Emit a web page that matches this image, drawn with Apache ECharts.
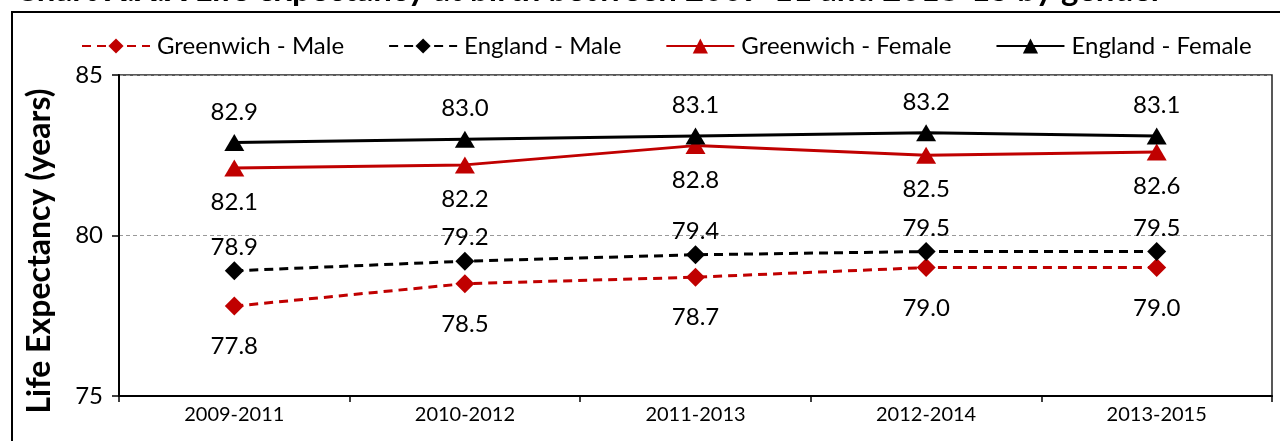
<!DOCTYPE html>
<html>
<head>
<meta charset="utf-8">
<script src="https://cdn.jsdelivr.net/npm/echarts@6/dist/echarts.min.js"></script>
<style>
  html, body { margin: 0; padding: 0; background: #fff; }
  #chart { width: 1280px; height: 441px; }
</style>
</head>
<body>
<div id="chart"></div>
<script>
// Three-year periods on the x axis
const periods = ['2009-2011', '2010-2012', '2011-2013', '2012-2014', '2013-2015'];

// Life expectancy at birth (years)
const greenwichMale   = [77.8, 78.5, 78.7, 79.0, 79.0];
const englandMale     = [78.9, 79.2, 79.4, 79.5, 79.5];
const greenwichFemale = [82.1, 82.2, 82.8, 82.5, 82.6];
const englandFemale   = [82.9, 83.0, 83.1, 83.2, 83.1];

const seriesNames = ['Greenwich - Male', 'England - Male', 'Greenwich - Female', 'England - Female'];

const FONT = 'Lato, "Open Sans", sans-serif';
const RED = '#C00000';
const BLACK = '#000000';

function makeSeries(name, data, color, dashed, symbol, symbolSize, labelPos, labelDist) {
  return {
    name: name,
    type: 'line',
    data: data,
    symbol: symbol,
    symbolSize: symbolSize,
    itemStyle: { color: color },
    lineStyle: { color: color, width: 3, type: dashed ? [9, 6] : 'solid' },
    label: {
      show: true,
      position: labelPos,
      distance: labelDist,
      color: '#000',
      fontFamily: FONT,
      fontSize: 24,
      formatter: p => p.value.toFixed(1)
    },
    emphasis: { disabled: true },
    animation: false
  };
}

const chart = echarts.init(document.getElementById('chart'), null, { renderer: 'canvas' });

chart.setOption({
  backgroundColor: '#fff',
  animation: false,
  title: {
    text: 'Chart X.X.X Life expectancy at birth between 2009-11 and 2013-15 by gender',
    left: 10,
    top: -31,
    textStyle: { fontFamily: FONT, fontSize: 33, fontWeight: 'bold', color: '#000' }
  },
  graphic: [{
    type: 'rect',
    z: -10,
    silent: true,
    shape: { x: 12, y: 12, width: 1400, height: 600 },
    style: { fill: 'none', stroke: '#000', lineWidth: 2 }
  }, {
    // y-axis title, sitting a little below the plot's vertical centre
    type: 'text',
    silent: true,
    x: 40,
    y: 251,
    rotation: Math.PI / 2,
    style: {
      text: 'Life Expectancy (years)',
      fontFamily: FONT,
      fontSize: 32,
      fontWeight: 'bold',
      fill: '#000',
      align: 'center',
      verticalAlign: 'middle'
    }
  }],
  legend: {
    data: seriesNames,
    left: 76,
    top: 29,
    itemWidth: 68,
    itemHeight: 19,
    itemGap: 44,
    textStyle: { fontFamily: FONT, fontSize: 24, color: '#000', padding: [0, 0, 0, 2] }
  },
  grid: {
    left: 119,
    right: 8,
    top: 75,
    bottom: 45,
    show: true,
    borderColor: '#222',
    borderWidth: 1.5,
    backgroundColor: 'transparent'
  },
  xAxis: {
    type: 'category',
    data: periods,
    boundaryGap: true,
    axisLine: { show: true, lineStyle: { color: '#000', width: 2 } },
    axisTick: { show: true, alignWithLabel: false, length: 6, lineStyle: { color: '#000', width: 1.5 } },
    axisLabel: { color: '#000', fontFamily: FONT, fontSize: 20, margin: 9 },
    splitLine: { show: false }
  },
  yAxis: {
    type: 'value',
    min: 75,
    max: 85,
    interval: 5,
    axisLine: { show: true, lineStyle: { color: '#000', width: 2 } },
    axisTick: { show: true, length: 7, lineStyle: { color: '#000', width: 1.5 } },
    axisLabel: { color: '#000', fontFamily: FONT, fontSize: 24, margin: 16 },
    splitLine: { show: true, lineStyle: { color: '#999', type: [4, 3], width: 1 } }
  },
  series: [
    makeSeries(seriesNames[0], greenwichMale, RED, true, 'diamond', 19, 'bottom', 19),
    makeSeries(seriesNames[1], englandMale, BLACK, true, 'diamond', 19, 'top', 2),
    makeSeries(seriesNames[2], greenwichFemale, RED, false, 'triangle', [20, 17], 'bottom', 14),
    makeSeries(seriesNames[3], englandFemale, BLACK, false, 'triangle', [20, 17], 'top', 10)
  ]
});
</script>
</body>
</html>
